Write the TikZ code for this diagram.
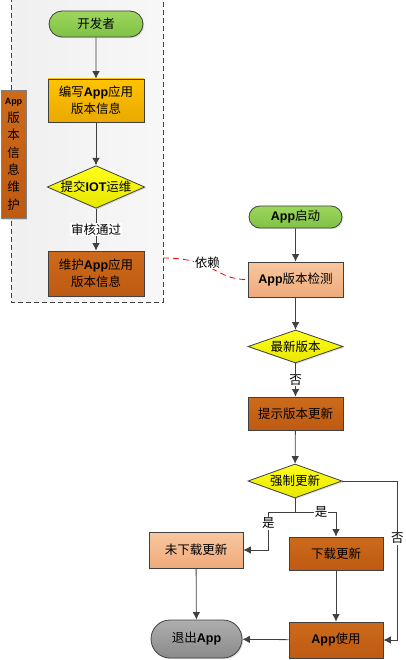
\documentclass[tikz,border=0pt]{standalone}
\usepackage{fontspec}
\setmainfont{Noto Sans CJK SC}
\newfontfamily\appfont{Liberation Sans}
\usetikzlibrary{shapes.geometric,shapes.misc,arrows.meta,shadows}

\definecolor{lineg}{HTML}{404040}
\definecolor{greentop}{HTML}{9DD65E}
\definecolor{greenbot}{HTML}{7FC144}
\definecolor{goldtop}{HTML}{FFC300}
\definecolor{goldbot}{HTML}{E9A900}
\definecolor{rusttop}{HTML}{CC6A1C}
\definecolor{rustbot}{HTML}{BE5A12}
\definecolor{peachtop}{HTML}{F8C7A0}
\definecolor{peachbot}{HTML}{EFAA7A}
\definecolor{graytop}{HTML}{AEAEAE}
\definecolor{graybot}{HTML}{8A8A8A}
\definecolor{yeltop}{HTML}{FFFF1A}
\definecolor{yelbot}{HTML}{E6E600}

\newcommand{\app}[1]{{\appfont\bfseries #1}}

\tikzset{
  base/.style={draw=lineg, line width=0.8pt, inner sep=1pt, align=center,
    font=\fontsize{12.5}{17}\selectfont,
    drop shadow={shadow xshift=1.2pt, shadow yshift=-1.2pt, opacity=0.25}},
  pill/.style={base, rounded rectangle},
  procbox/.style={base, rectangle},
  decide/.style={base, diamond, inner sep=0pt},
  greenfill/.style={top color=greentop, bottom color=greenbot},
  goldfill/.style={top color=goldtop, bottom color=goldbot},
  rustfill/.style={top color=rusttop, bottom color=rustbot},
  peachfill/.style={top color=peachtop, bottom color=peachbot},
  grayfill/.style={top color=graytop, bottom color=graybot},
  yelfill/.style={top color=yeltop, bottom color=yelbot},
  flow/.style={draw=lineg, line width=0.8pt, -{Latex[length=7.5pt,width=7.5pt]}},
  lbl/.style={fill=white, text=black, inner sep=1pt, font=\fontsize{12.5}{15}\selectfont},
}

\begin{document}
\begin{tikzpicture}[x=1pt,y=-1pt]
  \useasboundingbox (0,0) rectangle (405,660);

  % developer side
  \draw[draw=lineg, line width=0.8pt, dash pattern=on 5pt off 3pt,
        left color=black!6, right color=black!3] (11,-3) rectangle (163,302);
  \coordinate (depend) at (163,258);

  \node[procbox, top color=rusttop, bottom color=rustbot, draw=black!50,
        drop shadow={opacity=0}, minimum width=25pt, minimum height=128pt,
        inner sep=0pt, font=\fontsize{12.5}{17.4}\selectfont]
        (side) at (13.5,154.5)
        {{\fontsize{9}{17.4}\selectfont\app{App}}\\版\\本\\信\\息\\维\\护};

  \node[pill, greenfill, minimum width=96pt, minimum height=26pt] (dev) at (96,24) {开发者};
  \node[procbox, goldfill, minimum width=96pt, minimum height=43pt] (write) at (96,100.5)
        {编写\app{App}应用\\版本信息};
  \node[decide, yelfill, aspect=2.29, minimum width=96pt, minimum height=42pt] (submit) at (96,187)
        {提交\app{IOT}运维};
  \node[procbox, rustfill, minimum width=96pt, minimum height=45pt] (maintain) at (96,273.5)
        {维护\app{App}应用\\版本信息};

  \draw[flow] (dev) -- (write);
  \draw[flow] (write) -- (submit);
  \draw[flow] (submit) -- node[lbl] {审核通过} (maintain);

  % app side
  \node[pill, greenfill, minimum width=95pt, minimum height=22pt] (start) at (295.5,217)
        {\app{App}启动};
  \node[procbox, peachfill, minimum width=95pt, minimum height=35pt] (check) at (295.5,279.5)
        {\app{App}版本检测};
  \node[decide, yelfill, aspect=2.9, minimum width=95pt, minimum height=33pt] (latest) at (295.5,346.5)
        {最新版本};
  \node[procbox, rustfill, minimum width=95pt, minimum height=33pt] (notify) at (295.5,413.5)
        {提示版本更新};
  \node[decide, yelfill, aspect=2.8, minimum width=94pt, minimum height=34pt] (force) at (295,481)
        {强制更新};
  \coordinate (fork) at (295,512);

  \node[procbox, peachfill, minimum width=94pt, minimum height=36pt] (skip) at (196,550)
        {未下载更新};
  \node[procbox, rustfill, minimum width=94pt, minimum height=33pt] (download) at (336,553.5)
        {下载更新};
  \node[procbox, rustfill, minimum width=94pt, minimum height=36pt] (use) at (336,640)
        {\app{App}使用};
  \node[pill, grayfill, minimum width=93pt, minimum height=38pt] (quit) at (196.5,639)
        {退出\app{App}};

  \draw[red, line width=0.8pt, dash pattern=on 6pt off 4pt]
        (depend) .. controls (215,258) and (215,280) .. node[lbl, pos=0.42, yshift=4pt] {依赖} (check.west);

  \draw[flow] (start) -- (check);
  \draw[flow] (check) -- (latest);
  \draw[flow] (latest) -- node[lbl] {否} (notify);
  \draw[flow] (notify) -- (force);
  \draw[draw=lineg, line width=0.8pt] (force.south) -- (fork);
  \draw[flow] (fork) -| node[lbl, pos=0.65] {是} ([xshift=25pt]skip.east) -- (skip.east);
  \draw[flow] (fork) -| node[lbl, pos=0.32] {是} (download.north);
  \draw[flow] (force.east) -| node[lbl, pos=0.68] {否} ([xshift=14pt]use.east) -- (use.east);
  \draw[flow] (skip) -- (quit);
  \draw[flow] (download) -- (use);
  \draw[flow] (use) -- (quit);
\end{tikzpicture}
\end{document}
